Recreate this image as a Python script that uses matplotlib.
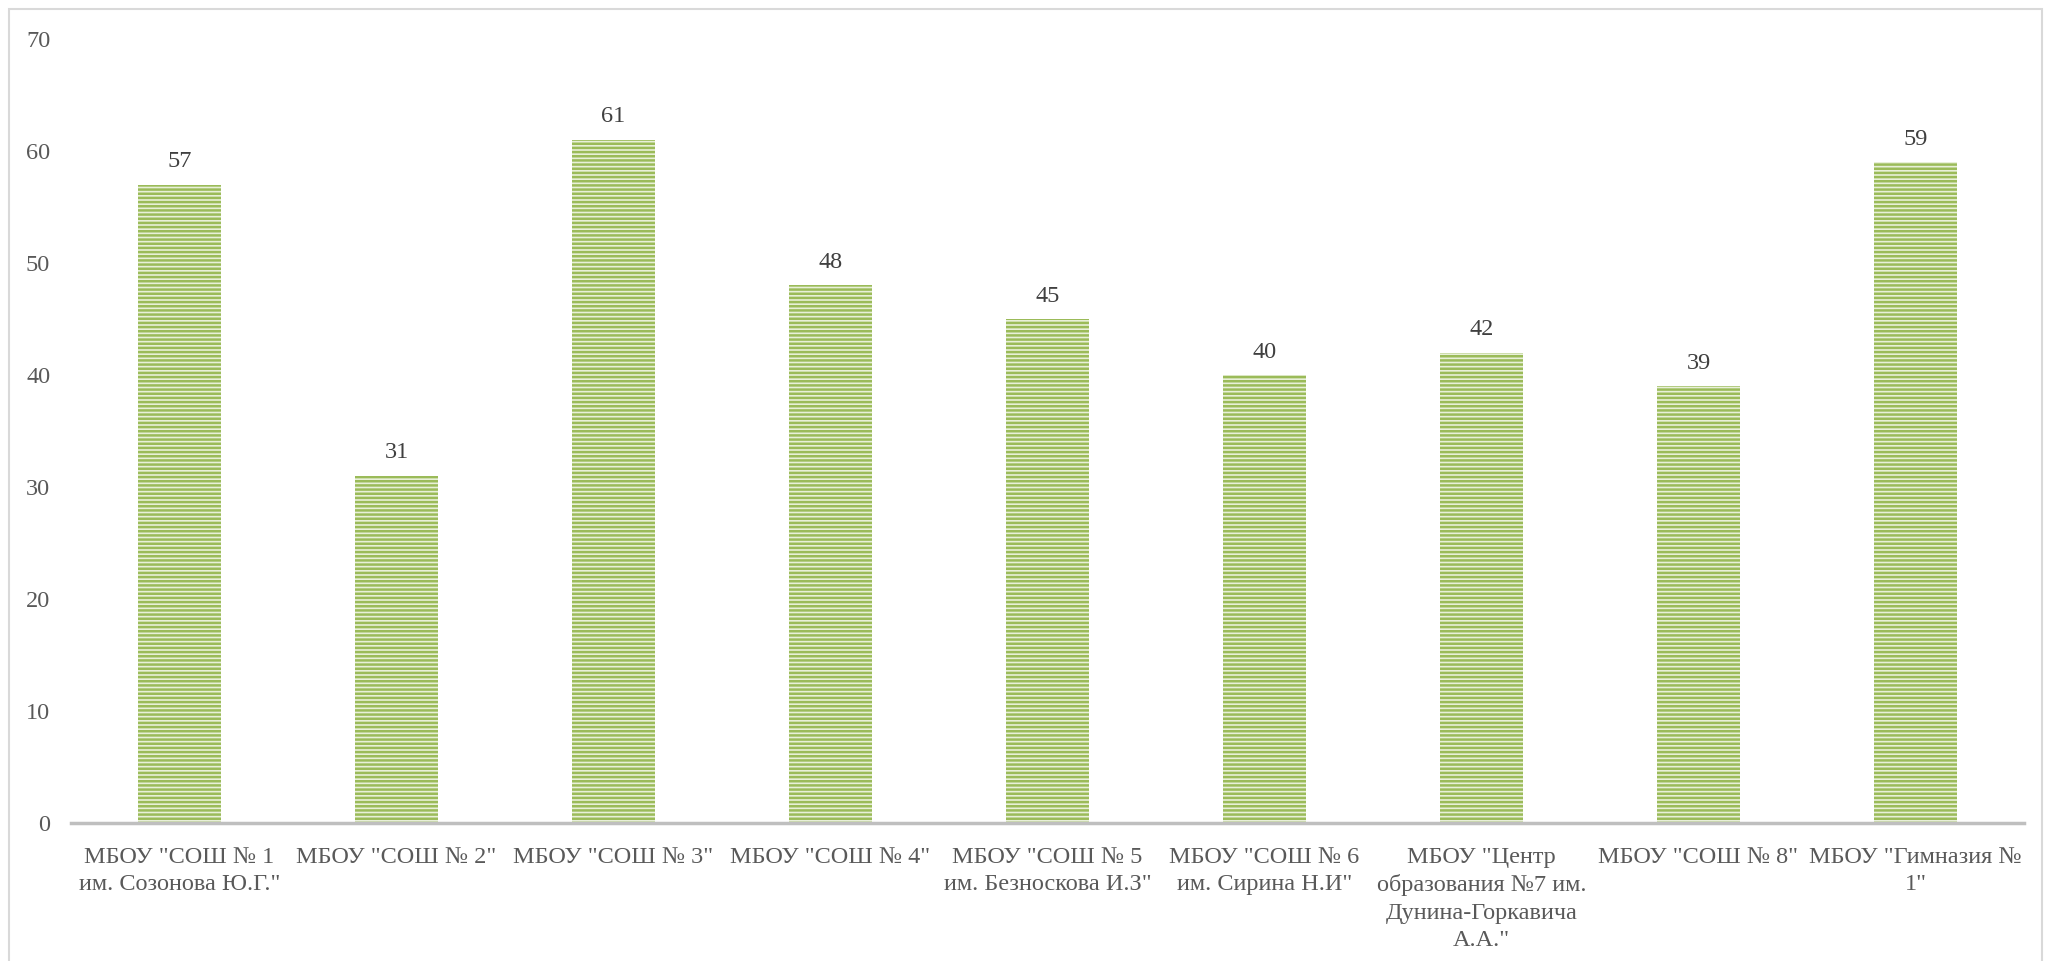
import matplotlib
matplotlib.use("Agg")
import matplotlib.pyplot as plt
from matplotlib.patches import Rectangle

categories = [
    'МБОУ "СОШ № 1\nим. Созонова Ю.Г."',
    'МБОУ "СОШ № 2"',
    'МБОУ "СОШ № 3"',
    'МБОУ "СОШ № 4"',
    'МБОУ "СОШ № 5\nим. Безноскова И.З"',
    'МБОУ "СОШ № 6\nим. Сирина Н.И"',
    'МБОУ "Центр\nобразования №7 им.\nДунина-Горкавича\nА.А."',
    'МБОУ "СОШ № 8"',
    'МБОУ "Гимназия №\n1"',
]
values = [57, 31, 61, 48, 45, 40, 42, 39, 59]
yticks = [0, 10, 20, 30, 40, 50, 60, 70]

plt.rcParams['font.family'] = ['Liberation Serif', 'DejaVu Serif']
plt.rcParams['hatch.linewidth'] = 1.8
text_color = '#595959'

W, H = 2045, 961
fig = plt.figure(figsize=(W / 100, H / 100), dpi=100)
ax = fig.add_axes([71 / W, 1 - 823 / H, (2024 - 71) / W, (823 - 39) / H])

x = list(range(len(values)))
ax.bar(x, values, width=0.38, color='#e8f0d8', edgecolor='#9bbb59',
       linewidth=0, hatch='----', zorder=2)

for xi, v in zip(x, values):
    ax.annotate(str(v), (xi, v), xytext=(0, 9), textcoords='offset points',
                ha='center', va='bottom', fontsize=17.5, color='#404040')

ax.set_xlim(-0.5, len(values) - 0.5)
ax.set_ylim(0, 70)
ax.set_yticks(yticks)
ax.set_yticklabels([str(t) for t in yticks], fontsize=17.5, color=text_color)
ax.set_xticks(x)
ax.set_xticklabels(categories, fontsize=17.5, color=text_color, linespacing=1.4)
ax.tick_params(axis='both', length=0)
ax.tick_params(axis='y', pad=15)
ax.tick_params(axis='x', pad=17)

for side in ['top', 'right', 'left']:
    ax.spines[side].set_visible(False)
ax.spines['bottom'].set_color('#bfbfbf')
ax.spines['bottom'].set_linewidth(2.5)
ax.spines['bottom'].set_zorder(3)

border = Rectangle((9 / W, -0.05), (2042 - 9) / W, 1.05 - 9 / H,
                   transform=fig.transFigure, fill=False,
                   edgecolor='#d9d9d9', linewidth=1.5)
fig.patches.append(border)

fig.savefig('out.png', dpi=100, facecolor='white')
